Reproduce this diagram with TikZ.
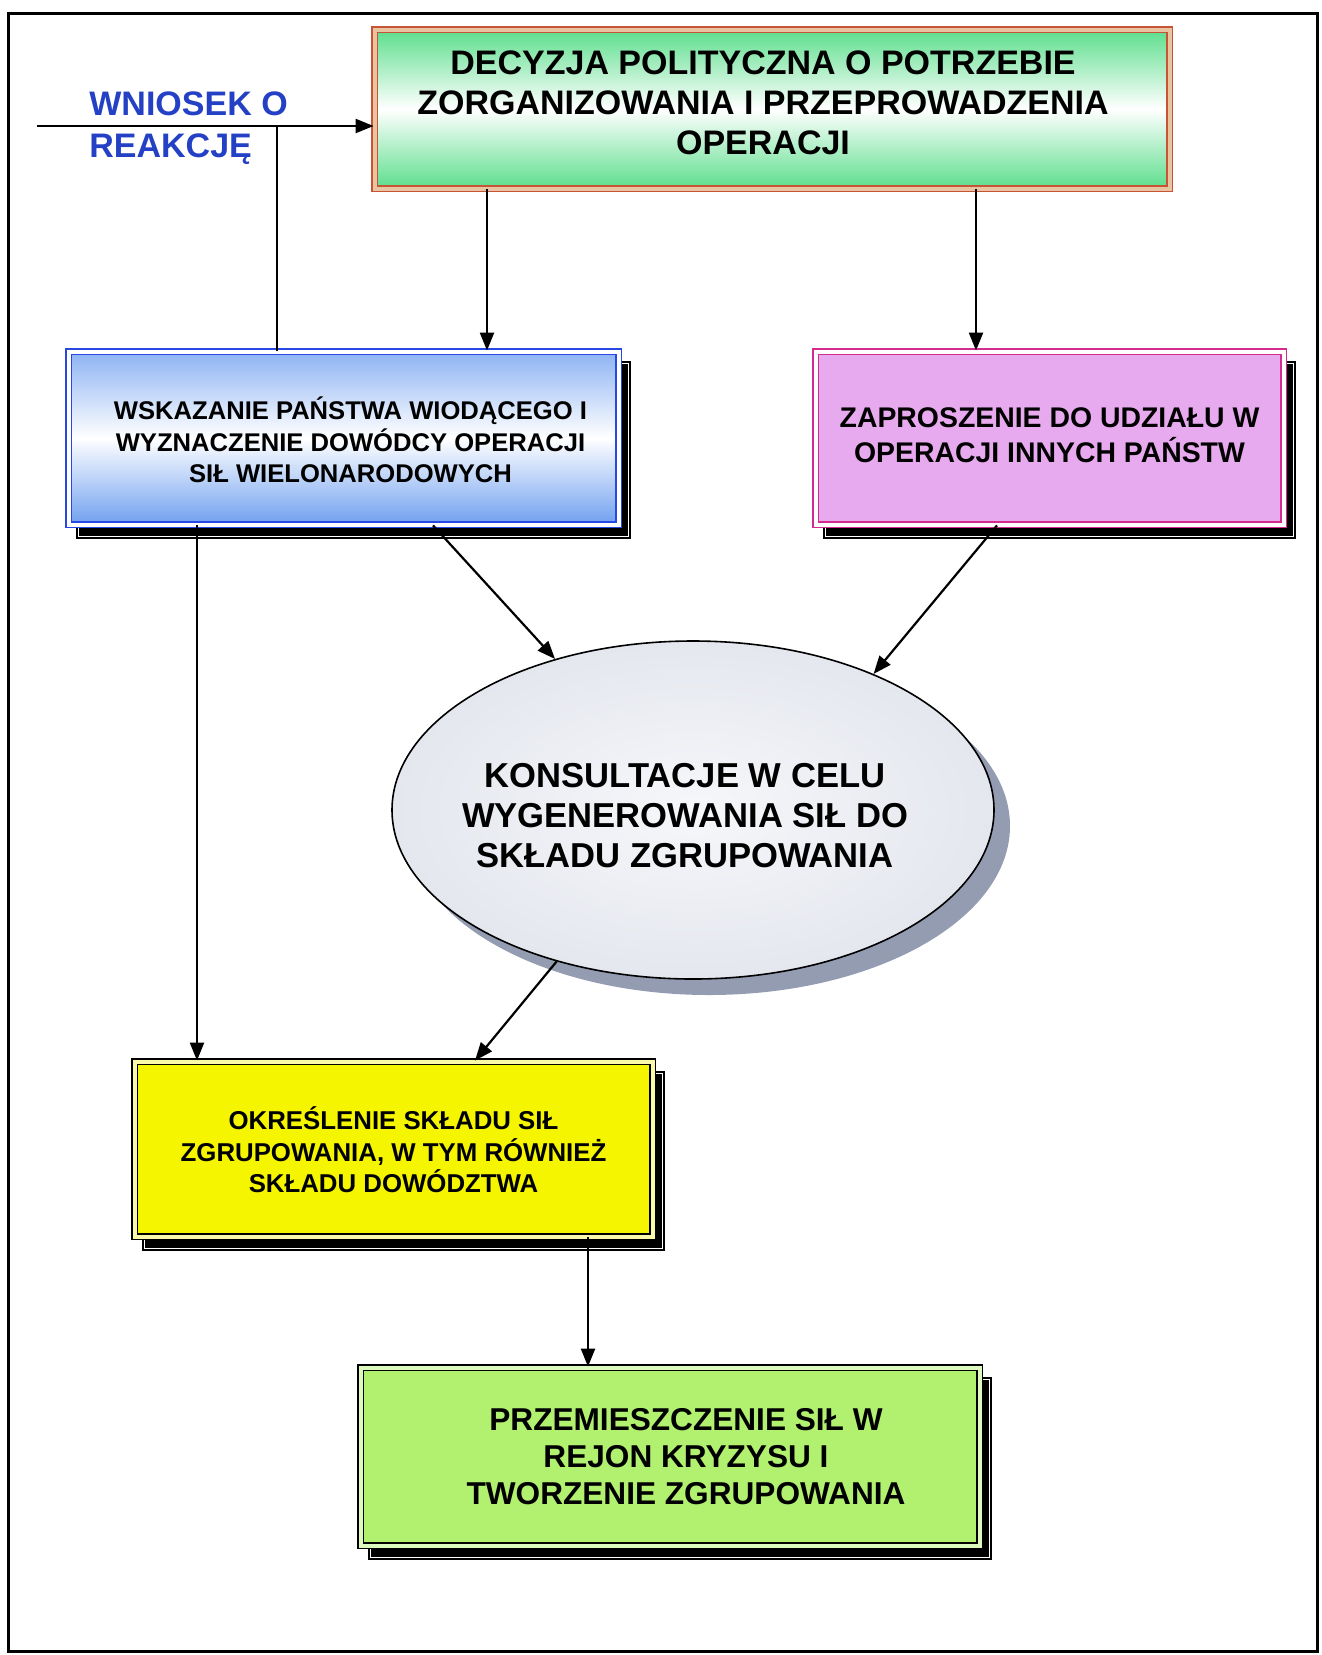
\documentclass[tikz,border=0pt]{standalone}
\usepackage{fontspec}
\setmainfont{Liberation Sans}
\usetikzlibrary{arrows.meta,shapes.geometric}

\definecolor{decgreen}{RGB}{92,222,140}
\definecolor{decborder}{RGB}{200,84,56}
\definecolor{dectan}{RGB}{232,196,160}
\definecolor{leadblue}{RGB}{112,160,240}
\definecolor{leadborder}{RGB}{40,72,228}
\definecolor{invitepink}{RGB}{232,170,238}
\definecolor{inviteborder}{RGB}{212,44,142}
\definecolor{composeyellow}{RGB}{245,245,0}
\definecolor{composegap}{RGB}{250,250,170}
\definecolor{deploygreen}{RGB}{178,240,112}
\definecolor{deploygap}{RGB}{220,250,190}
\definecolor{consultfill}{RGB}{228,231,238}
\definecolor{consultcore}{RGB}{246,247,250}
\definecolor{consultshadow}{RGB}{148,156,178}
\definecolor{reqblue}{RGB}{36,64,196}

\begin{document}
\begin{tikzpicture}[x=0.5pt,y=-0.5pt,
  arr/.style={line width=1.1pt,-{Triangle[length=9pt,width=7pt]}},
  link/.style={line width=1.1pt},
  dropshadow/.style={preaction={fill=black,draw=black,line width=1.2pt,
      double=white,double distance=0.5pt,
      transform canvas={xshift=5pt,yshift=-6pt}}},
  stepbox/.style={rectangle,inner sep=0pt,line width=0.9pt,double distance=2pt},
  boxtext/.style={align=center,inner sep=0pt,text=black},
]
\useasboundingbox (0,0) rectangle (1322,1655);

% outer frame
\draw[line width=1.5pt] (8,13) rectangle (1317,1651);

% political decision
\node[stepbox,draw=decborder,double=dectan,
  top color=decgreen,bottom color=decgreen,middle color=white,
  minimum width=397.5pt,minimum height=79.5pt,
  label={[boxtext,font=\fontsize{17}{20}\selectfont\bfseries,xshift=-4.5pt,yshift=3pt]center:{DECYZJA POLITYCZNA O POTRZEBIE\\ZORGANIZOWANIA I PRZEPROWADZENIA\\OPERACJI}}]
  (decision) at (772,109) {};

% lead nation
\node[stepbox,dropshadow,draw=leadborder,double=white,
  top color=leadblue!80,bottom color=leadblue,middle color=white,
  minimum width=275pt,minimum height=86.5pt,
  label={[boxtext,font=\fontsize{12.8}{15.75}\selectfont\bfseries,xshift=3.5pt,yshift=-1pt]center:{WSKAZANIE PAŃSTWA WIODĄCEGO I\\WYZNACZENIE DOWÓDCY OPERACJI\\SIŁ WIELONARODOWYCH}}]
  (lead) at (343.5,438) {};

% invitation
\node[stepbox,dropshadow,draw=inviteborder,double=white,fill=invitepink,
  minimum width=234pt,minimum height=86.5pt,
  label={[boxtext,font=\fontsize{14.2}{17.5}\selectfont\bfseries,yshift=1.2pt]center:{ZAPROSZENIE DO UDZIAŁU W\\OPERACJI INNYCH PAŃSTW}}]
  (invite) at (1049.5,438) {};

% consultations
\node[ellipse,draw=black,line width=0.8pt,inner sep=0pt,
  inner color=consultcore,outer color=consultfill,
  preaction={fill=consultshadow,transform canvas={xshift=8pt,yshift=-8pt}},
  minimum width=301pt,minimum height=169pt,
  label={[boxtext,font=\fontsize{17.3}{20}\selectfont\bfseries,xshift=-4pt,yshift=-3pt]center:{KONSULTACJE W CELU\\WYGENEROWANIA SIŁ DO\\SKŁADU ZGRUPOWANIA}}]
  (consult) at (693,810) {};

% force composition
\node[stepbox,dropshadow,draw=black,double=composegap,fill=composeyellow,
  minimum width=259pt,minimum height=87.5pt,
  label={[boxtext,font=\fontsize{12.9}{15.75}\selectfont\bfseries,yshift=-0.5pt]center:{OKREŚLENIE SKŁADU SIŁ\\ZGRUPOWANIA, W TYM RÓWNIEŻ\\SKŁADU DOWÓDZTWA}}]
  (compose) at (393.5,1149) {};

% deployment
\node[stepbox,dropshadow,draw=black,double=deploygap,fill=deploygreen,
  minimum width=309.5pt,minimum height=89pt,
  label={[boxtext,font=\fontsize{15.8}{18.5}\selectfont\bfseries,xshift=8pt]center:{PRZEMIESZCZENIE SIŁ W\\REJON KRYZYSU I\\TWORZENIE ZGRUPOWANIA}}]
  (deploy) at (670,1456.5) {};

% request label
\node[anchor=west,align=left,inner sep=0pt,text=reqblue,
  font=\fontsize{17}{21}\selectfont\bfseries] (request) at (89,128) {WNIOSEK O\\REAKCJĘ};

% connector columns
\coordinate (inflow) at (37,126);
\coordinate (joint) at (277,126);
\coordinate (colA) at (487,0);
\coordinate (colB) at (976,0);
\coordinate (colC) at (433,0);
\coordinate (colD) at (997,0);
\coordinate (colE) at (197,0);
\coordinate (colF) at (475,0);
\coordinate (colG) at (588,0);

% connectors
\draw[arr] (inflow) -- (inflow -| decision.west);
\draw[link] (joint) -- (joint |- lead.north);
\draw[arr] (decision.south -| colA) -- (lead.north -| colA);
\draw[arr] (decision.south -| colB) -- (invite.north -| colB);
\draw[arr] (lead.south -| colC) -- (consult);
\draw[arr] (invite.south -| colD) -- (consult.37);
\draw[arr] (lead.south -| colE) -- (compose.north -| colE);
\draw[arr] (consult.228) -- (compose.north -| colF);
\draw[arr] (compose.south -| colG) -- (deploy.north -| colG);
\end{tikzpicture}
\end{document}
